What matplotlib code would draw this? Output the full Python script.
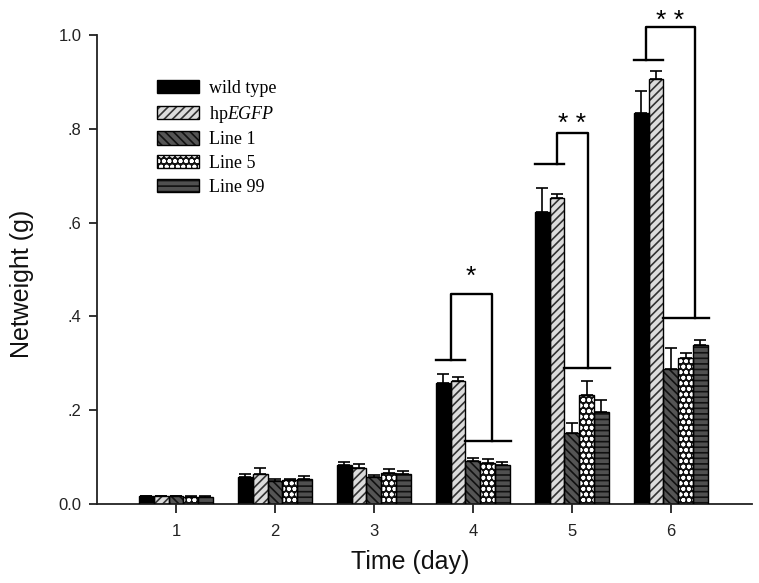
import numpy as np
import matplotlib
matplotlib.use('Agg')
from matplotlib import pyplot as plt
import matplotlib.patches as mpatches

plt.rcParams['font.family'] = ['Liberation Sans', 'DejaVu Sans']
plt.rcParams['mathtext.fontset'] = 'custom'
plt.rcParams['mathtext.it'] = 'Liberation Serif:italic'
plt.rcParams['mathtext.rm'] = 'Liberation Serif'
plt.rcParams['hatch.linewidth'] = 1.2

# data (netweight in g, mean and upper SE)
days = [1, 2, 3, 4, 5, 6]
groups = ['wild type', 'hp$\\it{EGFP}$', 'Line 1', 'Line 5', 'Line 99']
wild_type = [0.016, 0.058, 0.083, 0.257, 0.623, 0.834]
hp_egfp = [0.016, 0.065, 0.076, 0.262, 0.652, 0.906]
line1 = [0.016, 0.048, 0.058, 0.092, 0.151, 0.287]
line5 = [0.015, 0.051, 0.067, 0.088, 0.232, 0.311]
line99 = [0.015, 0.054, 0.063, 0.083, 0.196, 0.339]
err_wt = [0.002, 0.006, 0.007, 0.020, 0.051, 0.047]
err_hp = [0.002, 0.012, 0.009, 0.008, 0.010, 0.018]
err_l1 = [0.002, 0.005, 0.004, 0.007, 0.021, 0.045]
err_l5 = [0.002, 0.003, 0.008, 0.007, 0.031, 0.012]
err_l99 = [0.002, 0.006, 0.007, 0.006, 0.026, 0.011]

# significance brackets: day, left level, top level, right level, star level, label
sig_days = [4, 5, 6]
sig_left = [0.308, 0.724, 0.947]
sig_top = [0.447, 0.790, 1.016]
sig_right = [0.134, 0.289, 0.396]
sig_star = [0.497, 0.823, 1.043]
sig_text = ['*', '* *', '* *']
# horizontal offsets of the bracket legs from the day centre
sig_lx = [-0.225, -0.155, -0.253]
sig_rx = [0.189, 0.165, 0.239]

means = [wild_type, hp_egfp, line1, line5, line99]
errs = [err_wt, err_hp, err_l1, err_l5, err_l99]
# facecolor, hatch, hatch colour
styles = [('black', None, 'black'),
          ('#dcdcdc', '////', '#333333'),
          ('#555555', '\\\\\\\\', '#111111'),
          ('#111111', 'ooo', 'white'),
          ('#505050', '---', '#111111')]

fig = plt.figure(figsize=(7.59, 5.83), dpi=100)
ax = fig.add_axes([0.1274, 0.1355, 0.8634, 0.8045])

x = np.array(days, dtype=float)
w = 0.149
handles = []
for i in range(5):
    fc, hatch, hc = styles[i]
    pos = x + (i - 2) * w
    ax.bar(pos, means[i], w, color=fc, hatch=hatch, edgecolor=hc, linewidth=0, zorder=2)
    ax.bar(pos, means[i], w, fill=False, edgecolor='black', linewidth=1.0, zorder=3)
    ax.errorbar(pos, means[i], yerr=[np.zeros(6), errs[i]], fmt='none', ecolor='black',
                elinewidth=1.2, capsize=4.5, capthick=1.2, zorder=1)
    h1 = mpatches.Patch(facecolor=fc, hatch=hatch, edgecolor=hc, linewidth=0)
    h2 = mpatches.Patch(fill=False, edgecolor='black', linewidth=1.0)
    handles.append((h1, h2))

for d, yl, yt, yr, ys, t, lx, rx in zip(sig_days, sig_left, sig_top, sig_right,
                                         sig_star, sig_text, sig_lx, sig_rx):
    ax.plot([d - 2.5 * w, d - 0.5 * w], [yl, yl], color='black', lw=1.7, clip_on=False)
    ax.plot([d + lx, d + lx, d + rx, d + rx], [yl, yt, yt, yr], color='black', lw=1.7,
            clip_on=False)
    ax.plot([d - 0.5 * w, d + 2.6 * w], [yr, yr], color='black', lw=1.7, clip_on=False)
    ax.text(d + (lx + rx) / 2, ys - 0.028, t, ha='center', va='baseline', fontsize=19,
            clip_on=False)

ax.set_xlim(0.2, 6.82)
ax.set_ylim(0, 1.0)
ax.set_xticks(days)
ax.set_xticklabels([str(d) for d in days])
ax.set_yticks([0, 0.2, 0.4, 0.6, 0.8, 1.0])
ax.set_yticklabels(['0.0', '.2', '.4', '.6', '.8', '1.0'])
ax.tick_params(axis='both', labelsize=12, colors='#222222', width=1.3, direction='out')
ax.tick_params(axis='x', length=6.5, pad=8)
ax.tick_params(axis='y', length=5.8, pad=5)
for s in ['top', 'right']:
    ax.spines[s].set_visible(False)
for s in ['left', 'bottom']:
    ax.spines[s].set_linewidth(1.3)
    ax.spines[s].set_color('#222222')

ax.set_xlabel('Time (day)', fontsize=18, color='#111111')
ax.set_ylabel('Netweight (g)', fontsize=18, color='#111111')
ax.xaxis.set_label_coords(0.478, -0.098)
ax.yaxis.set_label_coords(-0.096, 0.47)

leg = fig.legend(handles, groups, loc='upper left', bbox_to_anchor=(157 / 759, 1 - 80 / 583),
                 frameon=False, prop={'family': 'Liberation Serif', 'size': 13},
                 handlelength=2.33, handleheight=0.75, labelspacing=0.37,
                 handletextpad=0.55, borderpad=0, borderaxespad=0)

fig.savefig('out.png', dpi=100)
